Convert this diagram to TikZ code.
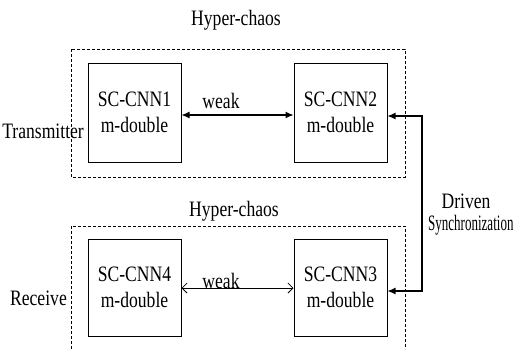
\documentclass[tikz,border=0pt]{standalone}
\usepackage{fontspec}
\setmainfont[FakeStretch=0.8]{Liberation Serif}
\usetikzlibrary{arrows.meta}
\tikzset{
  cnnbox/.style={draw, line width=1pt, minimum width=93pt, minimum height=99pt, align=center, inner sep=0pt, font=\fontsize{22}{26}\selectfont},
  lbl/.style={font=\fontsize{22}{24}\selectfont, inner sep=0pt},
  frame/.style={dashed, dash pattern=on 3pt off 2pt, line width=0.9pt},
  solidtip/.style={{Latex[length=8pt,width=7pt]}-{Latex[length=8pt,width=7pt]}, line width=1.1pt},
  opentip/.style={{Straight Barb[length=5pt,width=10pt]}-{Straight Barb[length=5pt,width=10pt]}, line width=0.8pt}
}
\begin{document}
\begin{tikzpicture}[x=1pt,y=-1pt]
\useasboundingbox (0,0) rectangle (513,349);

% transmitter side
\draw[frame] (71,49) rectangle (405,177);
\node[lbl] (hyp1) at (236,20) {Hyper-chaos};
\node[lbl,anchor=east] (trans) at (84,131) {Transmitter};
\node[cnnbox] (n1) at (134.5,112.5) {SC-CNN1\\m-double};
\node[cnnbox] (n2) at (340.5,112.5) {SC-CNN2\\m-double};
\node[lbl] (weak1) at (221,101) {weak};
\draw[solidtip] ([yshift=-2.5pt]n1.east) -- ([yshift=-2.5pt]n2.west);

% receiver side
\draw[frame] (71,349) -- (71,226) -- (405,226) -- (405,349);
\node[lbl] (hyp2) at (234,211) {Hyper-chaos};
\node[lbl,anchor=east] (recv) at (67,298) {Receive};
\node[cnnbox, minimum height=97pt] (n4) at (134.5,287.5) {SC-CNN4\\m-double};
\node[cnnbox, minimum height=97pt] (n3) at (340.5,287.5) {SC-CNN3\\m-double};
\node[lbl] (weak2) at (221,281) {weak};
\draw[opentip] ([yshift=-0.5pt]n4.east) -- ([yshift=-0.5pt]n3.west);

% drive line
\coordinate (s1) at (422,116);
\coordinate (s2) at (422,291);
\draw[solidtip] (n2.east |- s1) -- (s1) -- (s2) -- (n3.east |- s2);
\node[lbl] (drv) at (466,201) {Driven};
\node[lbl,anchor=west,xscale=0.74] (sync) at (428,225) {Synchronization};
\end{tikzpicture}
\end{document}
